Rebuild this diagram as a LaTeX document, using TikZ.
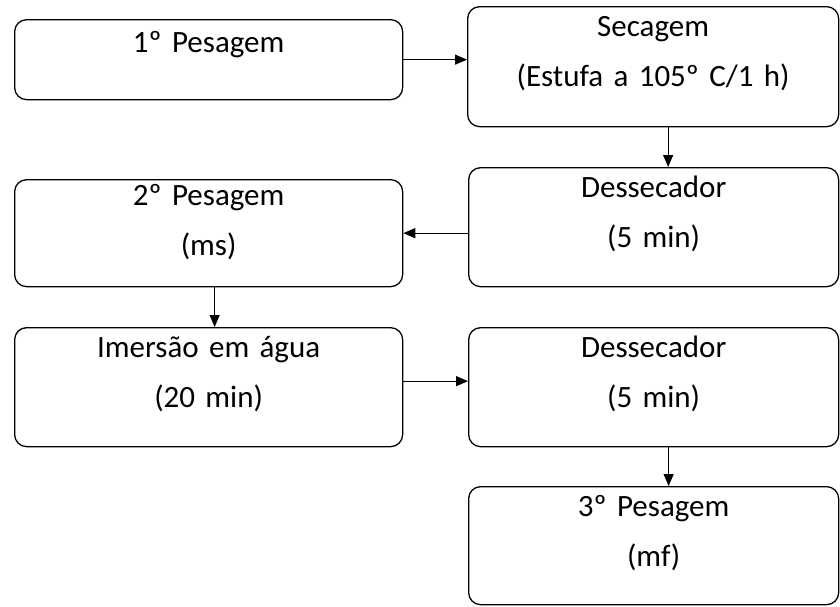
\documentclass[tikz,border=0pt]{standalone}
\usepackage{fontspec}
\setmainfont{Carlito}
\usetikzlibrary{arrows.meta}

\tikzset{
  passo/.style={draw=black, line width=1.3pt, rounded corners=12pt, anchor=north west,
    align=center, inner xsep=0pt, inner ysep=8pt, text height=22pt,
    font=\fontsize{31}{50}\selectfont},
  seta/.style={line width=1.2pt, -{Triangle[length=12pt,width=10pt]}}
}

\begin{document}
\begin{tikzpicture}[x=1pt, y=1pt]
    \useasboundingbox (0,0) rectangle (840,-606);

    \node[passo, text width=388pt, text depth=39pt, text height=25pt] (pes1) at (14,-19) {1º Pesagem};
    \node[passo, text width=371pt, text depth=82pt] (sec) at (467,-6) {Secagem\\(Estufa a 105º C/1 h)};
    \node[passo, text width=370pt, text depth=81pt] (des1) at (468,-167) {Dessecador\\(5 min)};
    \node[passo, text width=388pt, text depth=73pt, text height=18pt] (pes2) at (14,-179) {2º Pesagem\\(ms)};
    \node[passo, text width=388pt, text depth=81pt] (imer) at (14,-327) {Imersão em água\\(20 min)};
    \node[passo, text width=370pt, text depth=81pt] (des2) at (468,-327) {Dessecador\\(5 min)};
    \node[passo, text width=370pt, text depth=80pt] (pes3) at (468,-486) {3º Pesagem\\(mf)};

    \draw[seta] (pes1.east) -- (pes1.east -| sec.west);
    \draw[seta] ([xshift=15pt]sec.south) -- ([xshift=15pt]sec.south |- des1.north);
    \draw[seta] (des1.west |- pes2.east) -- (pes2.east);
    \draw[seta] ([xshift=6pt]pes2.south) -- ([xshift=6pt]pes2.south |- imer.north);
    \draw[seta] ([yshift=6pt]imer.east) -- ([yshift=6pt]imer.east -| des2.west);
    \draw[seta] ([xshift=15pt]des2.south) -- ([xshift=15pt]des2.south |- pes3.north);

\end{tikzpicture}
\end{document}
